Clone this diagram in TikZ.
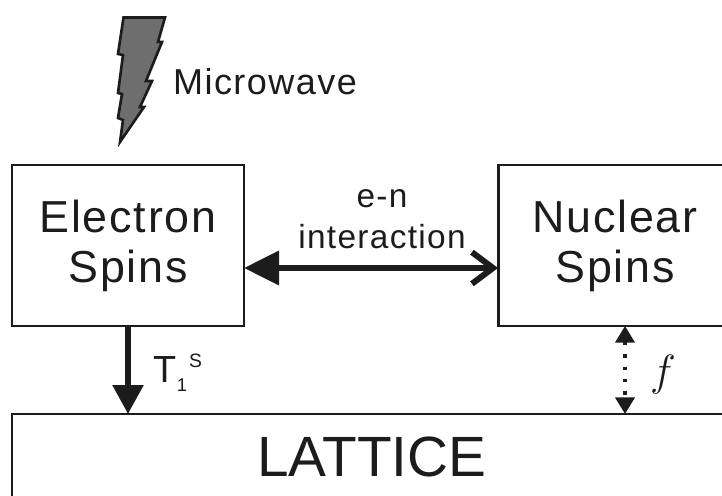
\documentclass[tikz,border=0pt]{standalone}
\usepackage{fontspec}
\setmainfont{Liberation Sans}
\newfontfamily\spacedfont[LetterSpace=4]{Liberation Sans}
\usepackage{tikz}
\usetikzlibrary{arrows.meta, positioning, calc}
\definecolor{myInk}{HTML}{1c1c1c}
\definecolor{myBolt}{HTML}{6e6e6e}

\begin{document}
\begin{tikzpicture}[
box/.style={draw=myInk, line width=1.7pt, outer sep=0pt, minimum height=3.22cm, align=center, text=myInk, font=\spacedfont\fontsize{25.5}{28.45}\selectfont},
label/.style={text=myInk, align=center, inner sep=0pt, font=\spacedfont\fontsize{19}{23.3}\selectfont},
bigarrow/.style={line width=3.4pt, draw=myInk},
dotarrow/.style={line width=1.8pt, draw=myInk, dash pattern=on 2pt off 5pt, {Triangle[length=9.5pt,width=11pt,sep=0pt]}-{Triangle[length=9.5pt,width=11pt,sep=0pt]}}
]
\useasboundingbox (0,0) rectangle (14.44,9.9);

\node[box, minimum width=4.64cm] (electron) at (2.56,4.99) {Electron\\Spins};
\node[box, minimum width=4.68cm] (nuclear) at (12.3,4.99) {Nuclear\\Spins};
\node[box, minimum width=14.4cm, minimum height=1.72cm, font=\fontsize{32.3}{36}\selectfont] (lattice) at (7.44,0.76) {LATTICE};

\draw[bigarrow, {Triangle[length=20pt,width=19pt,sep=0pt]}-{Straight Barb[length=12pt,width=18pt,line width=3.4pt]}] ([yshift=-0.45cm]electron.east) -- ([yshift=-0.45cm]nuclear.west);
\draw[bigarrow, -{Triangle[length=16.5pt,width=17pt]}] (electron.south) -- (electron.south |- lattice.north);
\draw[dotarrow] ([xshift=0.2cm]nuclear.south) -- ([xshift=0.2cm]nuclear.south |- lattice.north);

\node[label, font=\spacedfont\fontsize{20.5}{24}\selectfont] (microwave) at (5.3,8.26) {Microwave};
\node[label] (interaction) at (7.64,5.52) {e-n\\interaction};
\node[label, font=\fontsize{21.5}{21.5}\selectfont] (relax) at (3.56,2.45) {T\rlap{\raisebox{-5pt}{\fontsize{10.5}{10.5}\selectfont 1}}\hspace{7pt}\raisebox{8.5pt}{\fontsize{11}{11}\selectfont S}};
\node[label, font=\fontsize{26}{26}\selectfont] (rate) at (13.26,2.4) {$f$};

\draw[draw=myInk, fill=myBolt, line width=1.5pt, line join=miter] (2.47,9.55) -- (3.3,9.55) -- (3.16,9.06) -- (3.24,9.06) -- (2.92,8.28) -- (3.04,8.28) -- (2.8,7.76) -- (2.88,7.76) -- (2.4,7.06) -- (2.46,7.5) -- (2.36,7.54) -- (2.44,8.02) -- (2.36,8.04) -- (2.46,8.8) -- (2.36,8.82) -- cycle;
\end{tikzpicture}
\end{document}
